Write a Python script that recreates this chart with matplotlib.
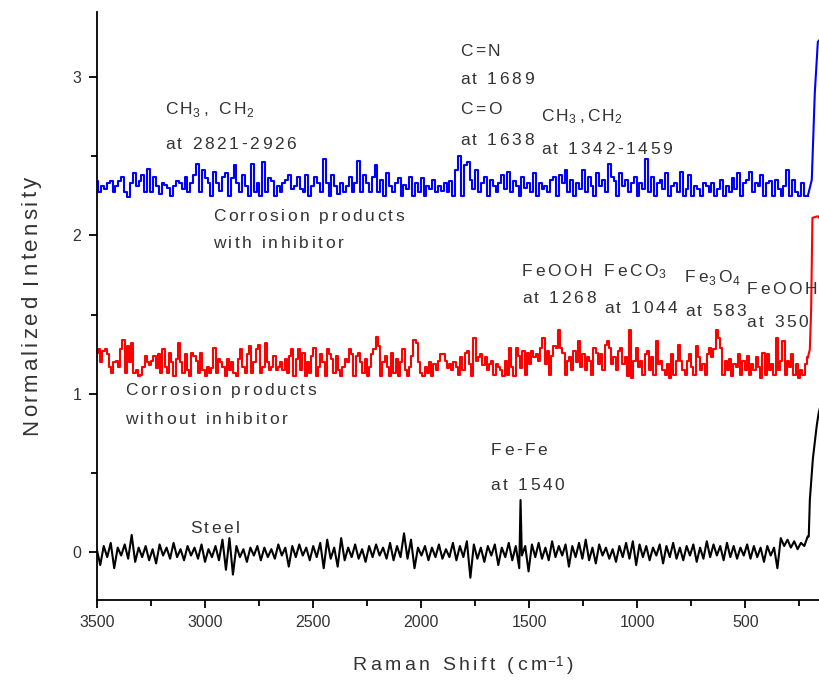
import re
import numpy as np
import matplotlib
matplotlib.use("Agg")
import matplotlib.pyplot as plt
import matplotlib.transforms as mtransforms
from matplotlib.ticker import MultipleLocator

plt.rcParams['font.family'] = ['Liberation Sans', 'DejaVu Sans']
plt.rcParams['mathtext.fontset'] = 'custom'
plt.rcParams['mathtext.rm'] = 'Liberation Sans'
plt.rcParams['mathtext.it'] = 'Liberation Sans'

# blue trace: corrosion products with inhibitor (3500 -> 211 cm-1)
blue_noise = [
    2.34, 2.27, 2.31, 2.29, 2.33, 2.34, 2.27, 2.31, 2.34, 2.37, 2.27, 2.24, 2.33, 2.39, 2.31, 2.34, 2.38, 2.27, 2.42, 2.27,
    2.37, 2.31, 2.26, 2.33, 2.32, 2.30, 2.25, 2.31, 2.34, 2.33, 2.29, 2.37, 2.27, 2.33, 2.38, 2.45, 2.27, 2.41, 2.36, 2.33,
    2.25, 2.40, 2.33, 2.28, 2.37, 2.39, 2.25, 2.36, 2.44, 2.33, 2.27, 2.38, 2.31, 2.25, 2.45, 2.27, 2.33, 2.25, 2.46, 2.27,
    2.36, 2.34, 2.25, 2.31, 2.27, 2.33, 2.35, 2.38, 2.29, 2.31, 2.37, 2.29, 2.27, 2.38, 2.25, 2.31, 2.37, 2.33, 2.27, 2.48,
    2.33, 2.25, 2.38, 2.31, 2.26, 2.33, 2.27, 2.31, 2.37, 2.27, 2.33, 2.47, 2.27, 2.38, 2.33, 2.27, 2.37, 2.44, 2.27, 2.35,
    2.25, 2.39, 2.31, 2.27, 2.33, 2.36, 2.25, 2.32, 2.29, 2.37, 2.25,
    2.33, 2.27, 2.36, 2.25, 2.31, 2.29, 2.35, 2.27, 2.31, 2.28, 2.33, 2.27, 2.34, 2.25, 2.41, 2.50, 2.25, 2.44, 2.46, 2.35,
    2.29, 2.41, 2.27, 2.33, 2.37, 2.25, 2.35, 2.31, 2.27, 2.33, 2.38, 2.29, 2.40, 2.27, 2.34, 2.31, 2.25, 2.37, 2.30, 2.33,
    2.27, 2.39, 2.25, 2.33, 2.29, 2.31, 2.27, 2.35, 2.37, 2.25, 2.38, 2.33, 2.41, 2.27, 2.35, 2.25, 2.33, 2.29, 2.41, 2.27,
    2.37, 2.31, 2.25, 2.39, 2.31, 2.35, 2.27, 2.45, 2.37, 2.34, 2.25, 2.39, 2.31, 2.35, 2.27, 2.33, 2.37, 2.25, 2.33, 2.29,
    2.48, 2.27, 2.37, 2.25, 2.33, 2.35, 2.29, 2.39, 2.25, 2.31, 2.33, 2.27, 2.40, 2.25, 2.29, 2.38, 2.25, 2.31, 2.29, 2.25,
    2.33, 2.31, 2.27, 2.33, 2.25, 2.29, 2.35, 2.25, 2.31, 2.27, 2.36, 2.29, 2.39, 2.25, 2.33, 2.35, 2.40, 2.27, 2.33, 2.31,
    2.38, 2.25, 2.33, 2.34, 2.25, 2.35, 2.29, 2.25, 2.31, 2.41, 2.25, 2.35, 2.27, 2.25, 2.33, 2.25, 2.25,
]
blue_tail_x = [193, 179, 165, 152]
blue_tail_y = [2.35, 2.90, 3.22, 3.24]

# red trace: corrosion products without inhibitor
red_noise = [
    1.26, 1.28, 1.20, 1.27, 1.28, 1.25, 1.17, 1.13, 1.20, 1.21, 1.17, 1.28, 1.34, 1.13, 1.30, 1.20, 1.32, 1.13, 1.15, 1.11,
    1.12, 1.17, 1.24, 1.20, 1.18, 1.21, 1.24, 1.16, 1.25, 1.13, 1.28, 1.17, 1.13, 1.26, 1.20, 1.11, 1.22, 1.32, 1.20, 1.13,
    1.25, 1.15, 1.11, 1.26, 1.24, 1.21, 1.13, 1.26, 1.15, 1.11, 1.17, 1.13, 1.16, 1.29, 1.13, 1.22, 1.20, 1.17, 1.11, 1.22,
    1.15, 1.20, 1.13, 1.11, 1.22, 1.28, 1.17, 1.13, 1.25, 1.30, 1.13, 1.20, 1.28, 1.31, 1.13, 1.17, 1.32, 1.20, 1.15, 1.17,
    1.24, 1.15, 1.17, 1.20, 1.15, 1.22, 1.13, 1.24, 1.28, 1.11, 1.22, 1.28, 1.15, 1.26, 1.11, 1.20, 1.13, 1.24, 1.29, 1.11,
    1.17, 1.25, 1.20, 1.11, 1.28, 1.25, 1.22, 1.13, 1.24, 1.15, 1.11, 1.17, 1.22, 1.20, 1.28, 1.25, 1.11, 1.24, 1.26, 1.20,
    1.13, 1.22, 1.11, 1.17, 1.25, 1.28, 1.36, 1.30, 1.11, 1.20, 1.24, 1.17, 1.11, 1.26, 1.13, 1.22, 1.11, 1.20, 1.28, 1.15,
    1.11, 1.17, 1.24, 1.34, 1.32, 1.20, 1.13, 1.11, 1.17, 1.13, 1.20, 1.11,
    1.19, 1.15, 1.21, 1.25, 1.25, 1.21, 1.16, 1.19, 1.15, 1.20, 1.17, 1.12, 1.23, 1.15, 1.26, 1.27, 1.19, 1.11, 1.35, 1.21,
    1.23, 1.25, 1.18, 1.23, 1.15, 1.19, 1.21, 1.12, 1.19, 1.17, 1.15, 1.11, 1.21, 1.12, 1.29, 1.17, 1.11, 1.29, 1.24, 1.16,
    1.27, 1.12, 1.26, 1.19, 1.27, 1.23, 1.25, 1.21, 1.29, 1.35, 1.19, 1.27, 1.12, 1.24, 1.30, 1.29, 1.40, 1.29, 1.26, 1.12,
    1.21, 1.23, 1.15, 1.27, 1.20, 1.33, 1.17, 1.25, 1.15, 1.23, 1.21, 1.12, 1.29, 1.26, 1.19, 1.25, 1.15, 1.31, 1.33, 1.29,
    1.19, 1.23, 1.15, 1.27, 1.29, 1.19, 1.23, 1.11, 1.40, 1.10, 1.21, 1.29, 1.17, 1.21, 1.12, 1.25, 1.27, 1.15, 1.23, 1.12,
    1.33, 1.19, 1.21, 1.15, 1.12, 1.19, 1.10, 1.25, 1.12, 1.21, 1.31, 1.21, 1.15, 1.12, 1.21, 1.25, 1.17, 1.12, 1.30, 1.23,
    1.15, 1.19, 1.12, 1.25, 1.29, 1.23, 1.28, 1.40, 1.35, 1.29, 1.12, 1.21, 1.15, 1.22, 1.11, 1.19, 1.17, 1.25, 1.12, 1.21,
    1.15, 1.24, 1.12, 1.19, 1.15, 1.23, 1.17, 1.10, 1.26, 1.12, 1.25, 1.15, 1.19, 1.12, 1.35, 1.15, 1.21, 1.33, 1.12, 1.21,
    1.17, 1.25, 1.12, 1.19, 1.10, 1.15, 1.12, 1.19, 1.23,
]
red_tail_x = [202, 196, 190, 165, 152]
red_tail_y = [1.28, 1.53, 2.11, 2.12, 2.10]

# black trace: bare steel, Fe-Fe line at 1540
steel_noise_hi = [
    0.02, -0.08, 0.04, -0.03, 0.06, -0.10, 0.03, -0.02, 0.05, -0.04, 0.11, -0.06, 0.03, -0.03, 0.04, -0.05, 0.02, -0.07, 0.05, -0.02,
    0.03, -0.04, 0.06, -0.03, 0.02, -0.05, 0.04, -0.02, 0.03, -0.04, 0.05, -0.06, 0.02, -0.03, 0.04, -0.05, 0.08, -0.11, 0.09, -0.14,
    0.04, -0.03, 0.02, -0.06, 0.03, -0.02, 0.04, -0.05, 0.03, -0.03, 0.02, -0.04, 0.05, -0.02, 0.03, -0.09, 0.04, -0.03, 0.05, -0.02,
    0.03, -0.05, 0.04, -0.03, 0.06, -0.10, 0.08, -0.04, 0.03, -0.09, 0.09, -0.05, 0.03, -0.03, 0.05, -0.04, 0.02, -0.06, 0.04, -0.03,
    0.05, -0.02, 0.03, -0.04, 0.06, -0.05, 0.04, -0.03, 0.12, -0.04, 0.08, -0.10, 0.03, -0.02, 0.04, -0.05, 0.03, -0.03, 0.05, -0.04,
    0.02, -0.03, 0.06, -0.05, 0.04, -0.03, 0.07, -0.16, 0.05, -0.04, 0.03, -0.06, 0.04, -0.02, 0.05, -0.08, 0.03, -0.03, 0.06, -0.05,
    0.04, -0.10,
]
fe_peak_x = 1540
fe_peak_y = 0.33
steel_noise_lo = [
    -0.02, 0.04, -0.12, 0.05, -0.03, 0.06, -0.04, 0.03, -0.05, 0.07, -0.03, 0.04, -0.02, 0.05, -0.09, 0.04, -0.03, 0.06, -0.04, 0.08,
    -0.05, 0.03, -0.07, 0.05, -0.02, 0.03, -0.04, 0.02, -0.06, 0.04, -0.03, 0.06, -0.04, 0.07, -0.08, 0.05, -0.03, 0.04, -0.05, 0.03,
    -0.02, 0.05, -0.07, 0.04, -0.03, 0.06, -0.04, 0.03, -0.05, 0.04, -0.02, 0.05, -0.06, 0.03, -0.04, 0.07, -0.03, 0.05, -0.02, 0.04,
    -0.05, 0.06, -0.03, 0.04, -0.04, 0.03, -0.02, 0.05, -0.04, 0.04, -0.03, 0.03, -0.06, 0.04, -0.02, 0.03, -0.10, 0.09, 0.04, 0.08,
    0.03, 0.07, 0.02, 0.06, 0.04, 0.10,
]
steel_tail_x = [207, 202, 188, 170, 161, 152]
steel_tail_y = [0.10, 0.33, 0.59, 0.80, 0.88, 0.93]

# band assignments (text, shift, intensity at text middle)
labels = [
    ("CH$_3$, CH$_2$", 3185, 2.80), ("at 2821-2926", 3185, 2.58),
    ("C=N", 1821, 3.17), ("at 1689", 1821, 2.99),
    ("C=O", 1821, 2.80), ("at 1638", 1821, 2.61),
    ("CH$_3$,CH$_2$", 1446, 2.76), ("at 1342-1459", 1446, 2.55),
    ("Corrosion products", 2963, 2.13), ("with inhibitor", 2963, 1.96),
    ("FeOOH", 1534, 1.78), ("at 1268", 1534, 1.61),
    ("FeCO$_3$", 1155, 1.78), ("at 1044", 1155, 1.55),
    ("Fe$_3$O$_4$", 780, 1.74), ("at 583", 780, 1.53),
    ("FeOOH", 494, 1.67), ("at 350", 494, 1.46),
    ("Corrosion products", 3370, 1.03), ("without inhibitor", 3370, 0.85),
    ("Fe-Fe", 1678, 0.65), ("at 1540", 1678, 0.43),
    ("Steel", 3070, 0.16),
]

blue_x = np.linspace(3500, 211, len(blue_noise))
red_x = np.linspace(3500, 211, len(red_noise))
steel_x = np.concatenate([np.linspace(3500, 1546, len(steel_noise_hi)), [fe_peak_x],
                          np.linspace(1534, 212, len(steel_noise_lo)), steel_tail_x])
steel_y = np.concatenate([steel_noise_hi, [fe_peak_y], steel_noise_lo, steel_tail_y])

fig = plt.figure(figsize=(8.2, 6.88), dpi=100)
ax = fig.add_axes([0.118, 0.128, 0.882, 0.855])
renderer = fig.canvas.get_renderer()
TEXT_GREY = '#333333'


def glyph_width(tok, size):
    t = fig.text(0, 0, tok, fontsize=size)
    w = t.get_window_extent(renderer).width
    t.remove()
    return w


def spaced_text(x, y, s, size, track, transform, rotation=0, center=False, shift=0.0):
    # letters spread out a little, placed one by one
    toks = re.findall(r'\$[^$]*\$|.', s)
    widths = []
    for tok in toks:
        if tok == ' ':
            widths.append(glyph_width('a a', size) - glyph_width('aa', size))
        else:
            widths.append(glyph_width(tok, size))
    # subscripts/superscripts sit right against the previous letter
    gaps = [0.0 if (i + 1 < len(toks) and toks[i + 1].startswith('$')) else track
            for i in range(len(toks))]
    total = sum(widths) + sum(gaps[:-1])
    pos = -total / 2 if center else 0.0
    for tok, w, g in zip(toks, widths, gaps):
        if rotation == 90:
            dx, dy = -shift, pos
        else:
            dx, dy = pos, shift
        tr = mtransforms.offset_copy(transform, fig=fig, x=dx * 72 / fig.dpi, y=dy * 72 / fig.dpi, units='points')
        if tok != ' ':
            fig.text(x, y, tok, transform=tr, fontsize=size, color=TEXT_GREY, rotation=rotation,
                     rotation_mode='anchor', ha='left', va='baseline')
        pos += w + g


ax.plot(steel_x, steel_y, color='black', lw=1.5)
# stepped baseline noise, then the steep low-shift edge as a plain line
for xs, ys, tx, ty, col in [(red_x, red_noise, red_tail_x, red_tail_y, '#ff0000'),
                            (blue_x, blue_noise, blue_tail_x, blue_tail_y, '#0000ff')]:
    ax.plot(xs, ys, color=col, lw=1.5, drawstyle='steps-mid')
    ax.plot([xs[-1]] + tx, [ys[-1]] + ty, color=col, lw=1.5)

ax.set_xlim(3500, 155)
ax.set_ylim(-0.3, 3.41)

for txt, xs, yi in labels:
    spaced_text(xs, yi, txt, 12.5, 2.6, ax.transData, shift=-6)

ax.xaxis.set_major_locator(MultipleLocator(500))
ax.xaxis.set_minor_locator(MultipleLocator(250))
ax.yaxis.set_major_locator(MultipleLocator(1))
ax.yaxis.set_minor_locator(MultipleLocator(0.5))
ax.tick_params(which='major', direction='out', length=6, width=1.3, labelsize=11.5, labelcolor=TEXT_GREY, pad=5)
ax.tick_params(which='minor', direction='out', length=4, width=1.3)
for side in ['top', 'right']:
    ax.spines[side].set_visible(False)
for side in ['left', 'bottom']:
    ax.spines[side].set_linewidth(1.3)

# axis titles
spaced_text(463 / 820, 1 - 670 / 688, 'Raman Shift (cm$^{-1}$)', 14, 3.5, fig.transFigure, center=True)
spaced_text(37 / 820, 1 - 306 / 688, 'Normalized Intensity', 16, 3.0, fig.transFigure, rotation=90, center=True)

fig.savefig('out.png', dpi=100)
